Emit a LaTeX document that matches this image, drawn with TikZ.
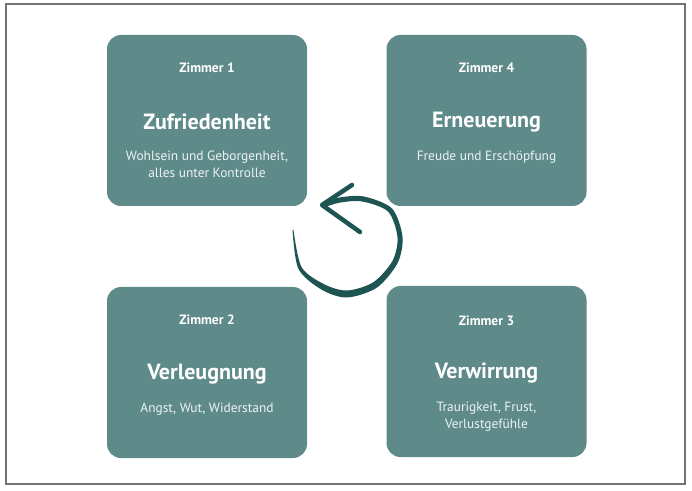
\documentclass[tikz,border=0pt]{standalone}
\usepackage{fontspec}
\setmainfont{PT Sans}
\usetikzlibrary{positioning,calc}
\definecolor{roomfill}{HTML}{5F8A8A}
\definecolor{loopcol}{HTML}{1E5552}
\definecolor{softwhite}{HTML}{EEF3F3}
\tikzset{
  room/.style  ={fill=roomfill,rounded corners=14pt,minimum width=200pt,minimum height=171pt,inner sep=0pt},
  num/.style   ={text=white,font=\fontsize{13.5}{15}\selectfont\bfseries,inner sep=0pt},
  ttl/.style   ={text=white,font=\fontsize{22}{26}\selectfont\bfseries,inner sep=0pt},
  dsc/.style   ={text=softwhite,font=\fontsize{13.4}{17}\selectfont,align=center,inner sep=0pt,anchor=north},
  frm/.style   ={draw=black!55,line width=1.5pt},
}

\begin{document}
\begin{tikzpicture}[x=1pt,y=1pt]
  \useasboundingbox (0,0) rectangle (692,490);
  \draw[frm] (6,486) rectangle (685,6);
  % the four rooms
  \node[room] (z1) at (207,369.5){};
  \node[room] (z4) at (486.5,369.5){};
  \node[room] (z2) at (207,117.5){};
  \node[room] (z3) at (486.5,118.5){};
  % texts
  \node[num] (z1num) at ([yshift=-33pt]z1.north){Zimmer 1};
  \node[ttl] (z1ttl) at ([yshift=-87pt]z1.north){Zufriedenheit};
  \node[dsc] (z1dsc) at ([yshift=-116pt]z1.north){Wohlsein und Geborgenheit,\\alles unter Kontrolle};
  \node[num] (z4num) at ([yshift=-33pt]z4.north){Zimmer 4};
  \node[ttl] (z4ttl) at ([yshift=-87pt]z4.north){Erneuerung};
  \node[dsc] (z4dsc) at ([yshift=-116pt]z4.north){Freude und Erschöpfung};
  \node[num] (z2num) at ([yshift=-33pt]z2.north){Zimmer 2};
  \node[ttl] (z2ttl) at ([yshift=-87pt]z2.north){Verleugnung};
  \node[dsc] (z2dsc) at ([yshift=-116pt]z2.north){Angst, Wut, Widerstand};
  \node[num] (z3num) at ([yshift=-35pt]z3.north){Zimmer 3};
  \node[ttl] (z3ttl) at ([yshift=-87pt]z3.north){Verwirrung};
  \node[dsc] (z3dsc) at ([yshift=-116pt]z3.north){Traurigkeit, Frust,\\Verlustgefühle};
  % hand drawn loop arrow
  \fill[loopcol] plot[smooth] coordinates {(292.5,260.1) (298.4,221.2) (321.5,200.4) (346.9,192.5)
      (376.8,202.3) (397.6,227) (402.5,253.4) (391.9,281.6) (363.8,293.5) (340,292.6) (322.3,287.5)}
    -- plot[smooth] coordinates {(323.7,282.5) (340,287.4) (362.2,288.5) (388.1,278.4) (397.5,252.6)
      (392.4,229) (373.2,207.7) (347.1,199.5) (324.5,205.6) (301.6,222.8) (293.5,259.9)} -- cycle;
  \draw[loopcol,line width=4.5pt,line cap=round,line join=round] (352,305) -- (322,285) -- (360,258);
\end{tikzpicture}
\end{document}
